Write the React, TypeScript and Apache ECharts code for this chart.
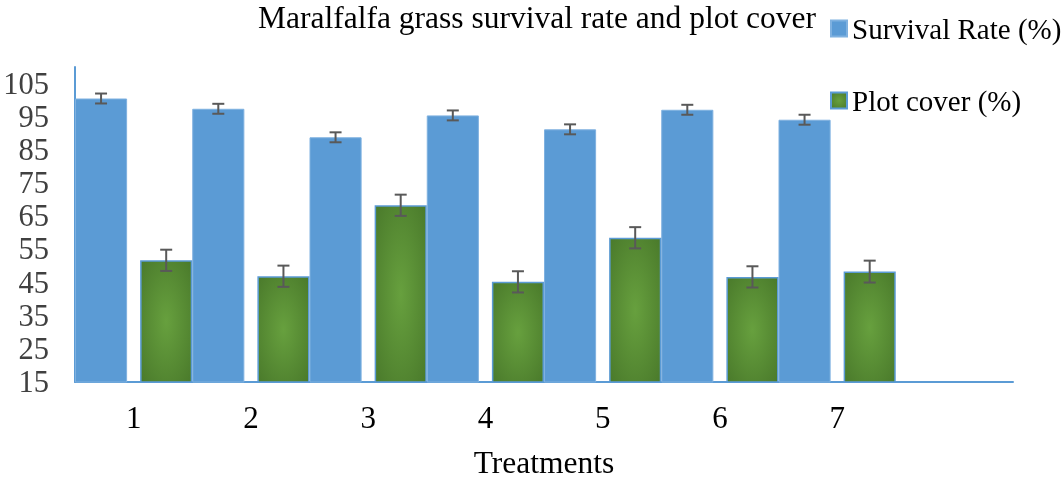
import React, { useEffect, useRef } from "react";
import * as echarts from "echarts";

const categories = ["1", "2", "3", "4", "5", "6", "7", ""];
const survivalRate = [100.5, 97.4, 88.8, 95.4, 91.2, 97.1, 94.1];
const survivalErr = [1.5, 1.5, 1.5, 1.5, 1.5, 1.5, 1.5];
const plotCover = [51.7, 46.9, 68.3, 45.2, 58.5, 46.7, 48.3];
const plotCoverErr = [3.2, 3.2, 3.2, 3.2, 3.2, 3.2, 3.3];
const yTickLabels = [15, 25, 35, 45, 55, 65, 75, 85, 95, 105];

const FONT = "Liberation Serif";

function errorSeries(values: number[], errs: number[], sign: number) {
  return {
    type: "custom",
    z: 5,
    silent: true,
    data: values.map((v, i) => [i, v, errs[i]]),
    encode: { x: 0, y: 1 },
    renderItem: (params: any, api: any) => {
      const idx = api.value(0);
      const v = api.value(1);
      const e = api.value(2);
      const bw = api.size([1, 0])[0];
      const barW = bw / 2.25;
      const off = ((barW * 1.25) / 2) * sign;
      const c = api.coord([idx, v]);
      const x = c[0] + off;
      const top = api.coord([idx, v + e])[1];
      const bot = api.coord([idx, v - e])[1];
      const hw = 6;
      const style = { stroke: "#595959", lineWidth: 2 };
      return {
        type: "group",
        children: [
          { type: "line", shape: { x1: x, y1: top, x2: x, y2: bot }, style },
          { type: "line", shape: { x1: x - hw, y1: top, x2: x + hw, y2: top }, style },
          { type: "line", shape: { x1: x - hw, y1: bot, x2: x + hw, y2: bot }, style },
        ],
      };
    },
  };
}

export default function App() {
  const ref = useRef<HTMLDivElement>(null);
  useEffect(() => {
    document.body.style.margin = "0";
    const chart = echarts.init(ref.current!, undefined, { renderer: "svg" });
    const green = {
      type: "radial",
      x: 0.5,
      y: 0.5,
      r: 0.7,
      colorStops: [
        { offset: 0, color: "#67a03e" },
        { offset: 1, color: "#4a7a2b" },
      ],
    };
    chart.setOption({
      animation: false,
      textStyle: { fontFamily: FONT },
      title: {
        text: "Maralfalfa grass survival rate and plot cover",
        left: 258,
        top: 1,
        padding: 0,
        textStyle: { fontFamily: FONT, fontSize: 31.5, fontWeight: "normal", color: "#000" },
      },
      legend: {
        data: ["Survival Rate (%)", "Plot cover (%)"],
        orient: "vertical",
        left: 830,
        top: 14,
        padding: 0,
        itemGap: 43,
        itemWidth: 16,
        itemHeight: 16,
        itemTextGap: 6,
        icon: "rect",
        textStyle: { fontFamily: FONT, fontSize: 29, color: "#000" },
      },
      grid: { left: 75, right: 50, top: 67, bottom: 102, containLabel: false },
      xAxis: {
        type: "category",
        data: categories,
        name: "Treatments",
        nameLocation: "middle",
        nameGap: 64,
        nameTextStyle: { fontFamily: FONT, fontSize: 31.5, color: "#000" },
        axisLine: { show: true, lineStyle: { color: "#5b9bd5", width: 2 } },
        axisTick: { show: false },
        axisLabel: { fontFamily: FONT, fontSize: 31, color: "#000", margin: 20 },
      },
      yAxis: {
        type: "value",
        min: 15,
        max: 110,
        interval: 5,
        splitLine: { show: false },
        axisLine: { show: true, lineStyle: { color: "#5b9bd5", width: 2 } },
        axisTick: { show: false },
        axisLabel: {
          fontFamily: FONT,
          fontSize: 30.5,
          color: "#404040",
          margin: 26,
          formatter: (v: number) => (yTickLabels.indexOf(v) >= 0 ? String(v) : ""),
        },
      },
      series: [
        {
          name: "Survival Rate (%)",
          type: "bar",
          data: survivalRate,
          barCategoryGap: "0%",
          barGap: "25%",
          itemStyle: { color: "#5b9bd5", borderColor: "#7fb1e0", borderWidth: 1 },
        },
        {
          name: "Plot cover (%)",
          type: "bar",
          data: plotCover,
          barCategoryGap: "0%",
          barGap: "25%",
          itemStyle: { color: green, borderColor: "#5b9bd5", borderWidth: 1.5 },
        },
        errorSeries(survivalRate, survivalErr, -1),
        errorSeries(plotCover, plotCoverErr, 1),
      ],
    } as any);
    return () => chart.dispose();
  }, []);
  return (
    <div
      ref={ref}
      style={{ position: "fixed", left: 0, top: 0, width: 1063, height: 484 }}
    />
  );
}
